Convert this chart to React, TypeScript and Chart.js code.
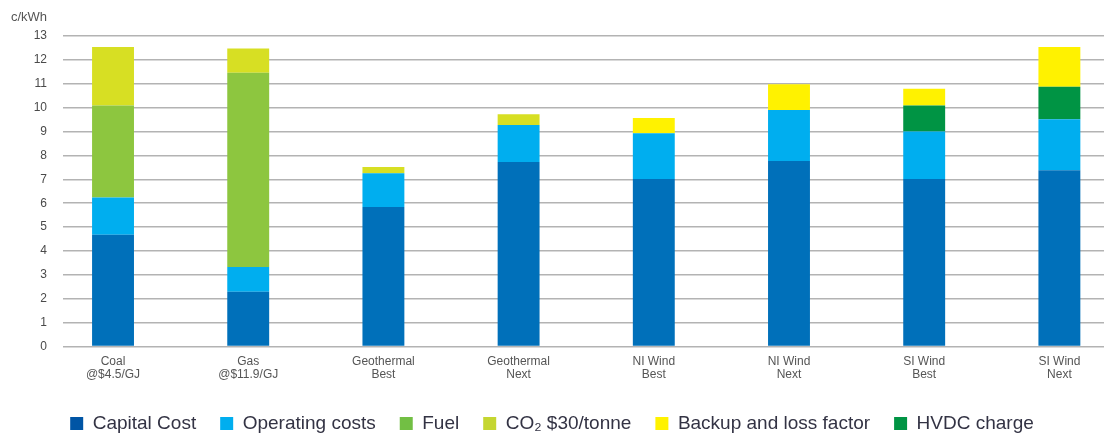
import React, { useEffect, useRef } from "react";
import { Chart, registerables } from "chart.js";

Chart.register(...registerables);

const categories: string[][] = [
  ["Coal", "@$4.5/GJ"],
  ["Gas", "@$11.9/GJ"],
  ["Geothermal", "Best"],
  ["Geothermal", "Next"],
  ["NI Wind", "Best"],
  ["NI Wind", "Next"],
  ["SI Wind", "Best"],
  ["SI Wind", "Next"],
];

const capitalCost = [4.68, 2.29, 5.84, 7.72, 7.01, 7.77, 7.01, 7.38];
const operatingCosts = [1.56, 1.04, 1.41, 1.55, 1.92, 2.13, 1.99, 2.13];
const fuel = [3.85, 8.13, 0, 0, 0, 0, 0, 0];
const co2 = [2.45, 1.02, 0.27, 0.45, 0, 0, 0, 0];
const hvdcCharge = [0, 0, 0, 0, 0, 0, 1.09, 1.36];
const backupLoss = [0, 0, 0, 0, 0.64, 1.08, 0.7, 1.67];

const yTicks = [0, 1, 2, 3, 4, 5, 6, 7, 8, 9, 10, 11, 12, 13];
const unitLabel = "c/kWh";

// legend order rank per dataset index (datasets are in stacking order)
const legendRank = [0, 1, 2, 3, 5, 4];

export default function App() {
  const ref = useRef<HTMLCanvasElement | null>(null);

  useEffect(() => {
    if (!ref.current) return;
    const toPts = (arr: number[]) => arr.map((v, i) => ({ x: i, y: v }));
    const legendColors = ["#0055A5", "#00AEEF", "#72BF44", "#C5D631", "#009444", "#FFF200"];

    const unitPlugin = {
      id: "unitLabel",
      afterDraw(chart: any) {
        const { ctx } = chart;
        const ys = chart.scales.y;
        ctx.save();
        ctx.font = "13px 'Liberation Sans', Arial, sans-serif";
        ctx.fillStyle = "#555555";
        ctx.textAlign = "right";
        ctx.textBaseline = "middle";
        ctx.fillText(unitLabel, ys.right - 16, 17);
        ctx.restore();
      },
    };

    const chart = new Chart(ref.current, {
      type: "bar",
      data: {
        datasets: [
          { label: "Capital Cost", data: toPts(capitalCost), backgroundColor: "#0070BA" },
          { label: "Operating costs", data: toPts(operatingCosts), backgroundColor: "#00AEEF" },
          { label: "Fuel", data: toPts(fuel), backgroundColor: "#8DC63F" },
          { label: "CO₂ $30/tonne", data: toPts(co2), backgroundColor: "#D7DF23" },
          { label: "HVDC charge", data: toPts(hvdcCharge), backgroundColor: "#009444" },
          { label: "Backup and loss factor", data: toPts(backupLoss), backgroundColor: "#FFF200" },
        ] as any,
      },
      options: {
        animation: false,
        responsive: true,
        maintainAspectRatio: false,
        datasets: { bar: { barPercentage: 0.31, categoryPercentage: 1, borderWidth: 0 } } as any,
        layout: { padding: { top: 36, bottom: -7, left: 0, right: 0 } },
        scales: {
          x: {
            type: "linear",
            stacked: true,
            offset: false,
            min: -0.37,
            max: 7.33,
            grid: { display: false, drawTicks: false, offset: false },
            border: { display: false },
            afterFit: (s: any) => {
              s.height = 43.5;
            },
            afterBuildTicks: (s: any) => {
              s.ticks = categories.map((_, i) => ({ value: i }));
            },
            ticks: {
              autoSkip: false,
              maxRotation: 0,
              padding: 8,
              color: "#555555",
              font: { family: "'Liberation Sans', Arial, sans-serif", size: 12, lineHeight: 1.12 },
              callback: (v: any) => categories[Math.round(Number(v))] ?? "",
            },
          },
          y: {
            stacked: true,
            min: 0,
            max: 13,
            afterFit: (s: any) => {
              s.width = 63;
            },
            afterBuildTicks: (s: any) => {
              s.ticks = yTicks.map((v) => ({ value: v }));
            },
            grid: { color: "#b3b3b3", lineWidth: 1.6, drawTicks: false },
            border: { display: false },
            ticks: {
              padding: 16,
              color: "#4a4a4a",
              font: { family: "'Liberation Sans', Arial, sans-serif", size: 12 },
            },
          },
        },
        plugins: {
          tooltip: { enabled: false },
          legend: {
            position: "bottom",
            labels: {
              boxWidth: 13,
              boxHeight: 13,
              padding: 24,
              color: "#333344",
              font: { family: "'Liberation Sans', Arial, sans-serif", size: 19 },
              sort: (a: any, b: any) => legendRank[a.datasetIndex] - legendRank[b.datasetIndex],
              generateLabels: (c: any) => {
                const items = (Chart.defaults.plugins.legend.labels as any).generateLabels(c);
                return items.map((it: any) => ({
                  ...it,
                  fillStyle: legendColors[it.datasetIndex],
                  strokeStyle: legendColors[it.datasetIndex],
                  lineWidth: 0,
                }));
              },
            },
          },
        },
      },
      plugins: [unitPlugin],
    });
    return () => chart.destroy();
  }, []);

  return (
    <div style={{ position: "absolute", left: 0, top: 0, width: 1104, height: 436 }}>
      <canvas ref={ref} />
    </div>
  );
}
